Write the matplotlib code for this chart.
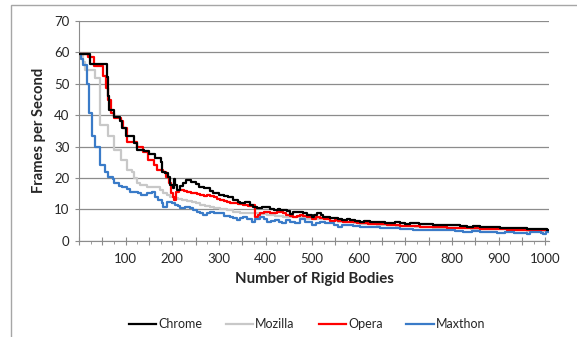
import matplotlib
matplotlib.use("Agg")
import matplotlib.pyplot as plt
from matplotlib.ticker import MultipleLocator, FuncFormatter
from matplotlib.patches import Rectangle

plt.rcParams['font.family'] = ['Lato', 'DejaVu Sans']

# Chrome
chrome_x = [0, 24, 59, 62, 65, 75, 88, 93, 100, 118, 124, 140, 150, 162, 175, 178, 184, 190, 196,
            202, 204, 206, 210, 216, 222, 230, 240, 250, 258, 268, 280, 288, 300, 312, 320, 330,
            340, 346, 356, 366, 374, 382, 392, 400, 410, 418, 426, 432, 446, 453, 460, 467, 475,
            481, 490, 499, 505, 510, 518, 524, 532, 538, 548, 556, 564, 574, 581, 592, 603, 612,
            624, 635, 646, 656, 667, 678, 689, 700, 710, 717, 730, 746, 760, 775, 790, 803, 818,
            832, 846, 860, 875, 889, 903, 917, 932, 946, 960, 975, 990, 1003, 1008]
chrome_fps = [59.5, 56.3, 52, 46, 41.5, 39.5, 38, 36, 33.2, 31, 29, 28.5, 27.5, 26.3, 25, 22, 21.5,
              20.4, 17.7, 16.7, 19.5, 17.7, 16.1, 17.5, 18.3, 19.3, 18.8, 18, 17.2, 16.7, 15.8,
              15.1, 14.6, 14.2, 14, 13, 12.3, 11.9, 12.3, 11.4, 10.8, 10.3, 10.6, 10.8, 10.2, 9.8,
              10.2, 9.8, 9.6, 8.4, 9, 9.2, 9, 8.7, 8.2, 7.6, 8.3, 8.7, 8.2, 7.6, 7.4, 7.1, 7.3,
              6.8, 6.6, 6.9, 6.6, 6.3, 6.1, 6.4, 6.1, 5.8, 6.0, 5.7, 5.5, 5.8, 5.6, 5.4, 5.6, 5.5,
              5.2, 5.2, 5.0, 5.1, 4.9, 5.0, 4.7, 4.5, 4.6, 4.4, 4.5, 4.4, 4.1, 3.9, 4.1, 3.9, 3.8,
              3.7, 3.6, 3.4, 3.4]

# Mozilla
mozilla_x = [0, 8, 13, 35, 44, 46, 63, 74, 90, 103, 114, 118, 125, 131, 146, 168, 174, 181, 188,
             196, 203, 212, 220, 232, 242, 251, 260, 270, 280, 289, 303, 317, 331, 345, 360, 374,
             389, 403, 420, 438, 456, 474, 490, 505, 520, 538, 556, 574, 590, 603, 620, 640, 660,
             680, 700, 720, 740, 760, 780, 800, 820, 840, 860, 880, 900, 920, 940, 960, 980, 1000,
             1008]
mozilla_fps = [59.5, 57, 54.3, 51.7, 46, 36.8, 33.5, 28.9, 25.7, 22.5, 22, 20, 18.5, 17.7, 17.2,
               17, 16.1, 15.3, 14.6, 14, 13.5, 13.2, 13, 12.7, 12.4, 11.9, 11.4, 11, 10.6, 10.3,
               10, 9.8, 9.2, 8.7, 8.9, 8.7, 8.4, 8.2, 7.9, 7.6, 7.4, 7.6, 7.0, 6.9, 6.8, 6.4, 6.0,
               5.8, 5.6, 5.4, 5.2, 5.0, 4.9, 4.7, 4.6, 4.4, 4.3, 4.2, 4.1, 4.0, 3.9, 3.8, 3.7, 3.6,
               3.6, 3.4, 3.3, 3.2, 3.1, 3.0, 3.0]

# Opera
opera_x = [0, 20, 33, 52, 58, 62, 68, 75, 90, 95, 104, 124, 138, 149, 160, 167, 181, 186, 193, 197,
           201, 204, 207, 215, 225, 232, 240, 246, 254, 260, 268, 274, 282, 289, 296, 303, 310, 317,
           324, 331, 340, 352, 362, 374, 378, 384, 389, 396, 403, 410, 417, 424, 431, 438, 445, 452,
           460, 467, 474, 481, 490, 499, 508, 517, 526, 538, 548, 556, 566, 574, 585, 596, 608, 620,
           632, 646, 660, 674, 689, 703, 717, 732, 746, 760, 775, 790, 803, 818, 832, 846, 860, 875,
           889, 903, 917, 932, 946, 960, 975, 990, 1003, 1008]
opera_fps = [59.5, 58.5, 55.6, 52.4, 48.5, 44.8, 40.6, 39, 38.2, 36, 31.5, 29.9, 28.4, 25.7, 24.1,
             22.5, 22, 20.4, 18.3, 15.1, 14, 13, 15.6, 16.1, 15.8, 15.6, 15.3, 15.1, 14.8, 14.6,
             14.4, 14.6, 14.2, 14, 13.4, 13, 12.7, 12.4, 12.1, 11.9, 11.6, 11.4, 11.2, 11.4, 7.6,
             8.2, 8.7, 9, 9.2, 8.9, 8.7, 9.0, 9.2, 8.7, 8.2, 7.9, 7.6, 8.0, 8.2, 7.9, 7.4, 6.9, 7.4,
             7.1, 6.8, 6.4, 6.6, 6.2, 5.9, 6.1, 5.8, 5.6, 5.7, 5.4, 5.2, 5.3, 5.0, 5.0, 4.8, 4.7,
             4.8, 4.5, 4.5, 4.3, 4.4, 4.2, 4.0, 4.1, 3.9, 3.9, 3.8, 3.8, 3.6, 3.7, 3.4, 3.5, 3.3,
             3.4, 3.2, 3.3, 3.0, 3.0]

# Maxthon
maxthon_x = [0, 5, 9, 18, 22, 27, 34, 45, 56, 62, 72, 76, 85, 92, 103, 110, 127, 134, 145, 156,
             163, 170, 177, 181, 188, 199, 206, 212, 217, 228, 238, 245, 252, 260, 266, 274, 281,
             290, 303, 312, 324, 331, 338, 345, 352, 360, 370, 378, 389, 396, 403, 412, 420, 428,
             435, 445, 453, 463, 474, 485, 499, 508, 517, 528, 538, 547, 556, 565, 574, 588, 603,
             618, 632, 646, 660, 675, 689, 703, 717, 735, 753, 770, 789, 806, 824, 842, 860, 878,
             896, 914, 932, 946, 961, 968, 975, 990, 996, 1001, 1008]
maxthon_fps = [59.5, 58, 56, 50, 40.6, 33.5, 29.9, 24.1, 22, 20.4, 19.5, 18.3, 17.5, 17, 16.5,
               15.6, 15.2, 14.6, 15.2, 15.6, 14, 13, 12, 10.8, 12.4, 12, 11.4, 11.0, 10.3, 10.6,
               10.3, 9.7, 9.2, 8.8, 8.2, 8.8, 9.2, 8.9, 8.7, 8.0, 7.6, 7.2, 6.6, 7.3, 7.6, 6.9, 6.1,
               6.8, 7.6, 6.8, 6.1, 6.3, 6.6, 6.0, 5.5, 6.6, 6.1, 5.5, 6.8, 5.9, 5.0, 5.6, 6.1, 5.5,
               5.5, 5.0, 4.5, 4.9, 5.0, 4.7, 4.5, 4.4, 4.4, 4.1, 3.9, 3.9, 3.7, 3.6, 3.4, 3.4, 3.3,
               3.4, 3.3, 3.1, 2.9, 3.0, 2.9, 2.8, 2.6, 2.7, 2.6, 2.5, 2.2, 2.9, 2.9, 2.5, 2.2, 2.9,
               2.9]

fig = plt.figure(figsize=(5.77, 3.37), dpi=100)
# outer chart border (cropped at right and bottom)
fig.patches.append(Rectangle((11 / 577, -0.1), 1.2, 1 - 5 / 337 + 0.1, transform=fig.transFigure,
                             fill=False, edgecolor='#a6a6a6', linewidth=1.0))

ax = fig.add_axes([79 / 577, 1 - 240.7 / 337, (549 - 79) / 577, (240.7 - 21) / 337])

ax.plot(chrome_x, chrome_fps, color='black', lw=1.6, drawstyle='steps-post', label='Chrome')
ax.plot(mozilla_x, mozilla_fps, color='#c8c8c8', lw=1.6, drawstyle='steps-post', label='Mozilla')
ax.plot(opera_x, opera_fps, color='#ff0000', lw=1.6, drawstyle='steps-post', label='Opera')
ax.plot(maxthon_x, maxthon_fps, color='#3a7bc8', lw=1.6, drawstyle='steps-post', label='Maxthon')
# keep Chrome on top as in the reference
ax.lines[0].set_zorder(3)

ax.set_xlim(0, 1008)
ax.set_ylim(0, 70)
ax.yaxis.set_major_locator(MultipleLocator(10))
ax.xaxis.set_major_locator(MultipleLocator(50))
ax.xaxis.set_minor_locator(MultipleLocator(25))
ax.xaxis.set_major_formatter(FuncFormatter(lambda v, p: '%d' % v if v % 100 == 0 and v > 0 else ''))

ax.grid(axis='y', color='#8c8c8c', lw=0.9)
ax.set_axisbelow(True)
for s in ['top', 'right']:
    ax.spines[s].set_visible(False)
ax.spines['left'].set_color('#8c8c8c')
ax.spines['bottom'].set_color('#8c8c8c')
ax.tick_params(axis='y', colors='#8c8c8c', labelcolor='#262626', length=3, labelsize=9.5, pad=4)
ax.tick_params(axis='x', which='major', colors='#8c8c8c', labelcolor='#262626', direction='inout',
               length=6, labelsize=9.5, pad=6)
ax.tick_params(axis='x', which='minor', colors='#8c8c8c', direction='out', length=2)

ax.set_xlabel('Number of Rigid Bodies', fontsize=10.8, fontweight='bold', color='#262626', labelpad=5)
ax.set_ylabel('Frames per Second', fontsize=10.6, fontweight='bold', color='#262626', labelpad=6)

leg = fig.legend(handles=ax.lines, loc='center', bbox_to_anchor=(307 / 577, 1 - 324 / 337), ncol=4,
                 frameon=False, fontsize=9, handlelength=2.2, handletextpad=0.15, columnspacing=1.9)
for t in leg.get_texts():
    t.set_color('#262626')

fig.savefig('out.png', dpi=100)
